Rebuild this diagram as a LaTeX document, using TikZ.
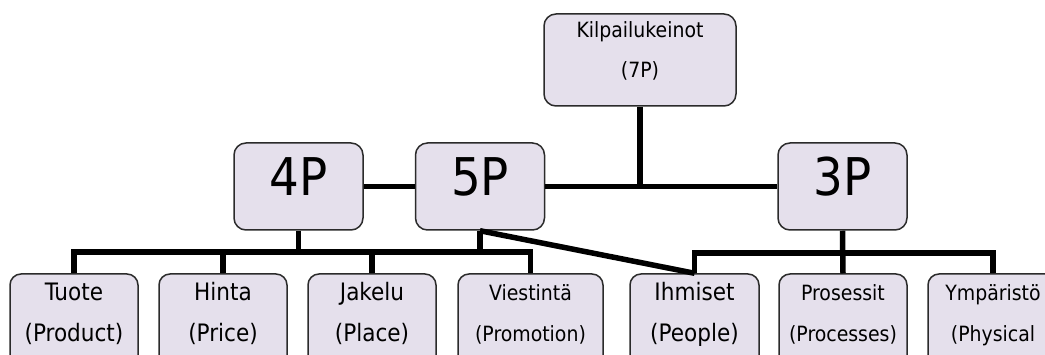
\documentclass[tikz,border=0pt]{standalone}
\usepackage{fontspec}
\setmainfont{DejaVu Sans Condensed}
\usetikzlibrary{positioning}
\definecolor{Box}{HTML}{E5E0EC}
\definecolor{Edge}{HTML}{2B2B2B}
\tikzset{
    card/.style={rectangle, rounded corners=12pt, draw=Edge, line width=1.5pt, fill=Box, inner sep=0pt},
    bignode/.style={card, minimum width=129pt, minimum height=87pt},
    leafnode/.style={card, rounded corners=11pt, minimum height=100pt},
    word/.style={anchor=base, inner sep=0pt, font=\fontsize{24}{28}\selectfont},
    smallword/.style={word, font=\fontsize{21}{25}\selectfont},
    topword/.style={word, font=\fontsize{21}{25}\selectfont},
    bigword/.style={word, font=\fontsize{52}{60}\selectfont},
    link/.style={line width=5.5pt, color=black},
}
\begin{document}
\begin{tikzpicture}[x=1pt, y=-1pt]
    \clip (0,0) rectangle (1045,355);

    % Ylin laatikko
    \node[card, minimum width=192pt, minimum height=92pt] (kilpailu) at (640,60) {};
    \node[topword] (kilpailu-a) at (640,38) {Kilpailukeinot};
    \node[topword] (kilpailu-b) at (640,78) {(7P)};

    % 4P, 5P, 3P
    \foreach \n/\x/\t in {p4/298.5/4P, p5/480/5P, p3/842.5/3P}{
        \node[bignode] (\n) at (\x,186.5) {};
        \node[bigword] (\n-t) at (\x,196) {\t};
    }

    % Alimmat laatikot
    \foreach \n/\x/\w/\s/\a/\b in {
        tuote/74/128/word/Tuote/{(Product)},
        hinta/223/128/word/Hinta/{(Price)},
        jakelu/372/128/word/Jakelu/{(Place)},
        viest/530.5/145/smallword/Viestintä/{(Promotion)},
        ihmiset/694.5/129/word/Ihmiset/{(People)},
        prosessit/843/128/smallword/Prosessit/{(Processes)},
        ymparisto/993/130/smallword/Ympäristö/{(Physical}}{
        \node[leafnode, minimum width=\w pt] (\n) at (\x,324) {};
        \node[\s] (\n-a) at (\x,301) {\a};
        \node[\s] (\n-b) at (\x,342) {\b};
    }

    % Yhdysviivat
    \coordinate (busL) at (0,252);
    \coordinate (busR) at (0,253);
    \draw[link] (kilpailu.south) -- (kilpailu.south |- p5.east);
    \draw[link] (p4.east) -- (p5.west);
    \draw[link] (p5.east) -- (p3.west);
    \draw[link] (tuote.north) -- (tuote.north |- busL) -- (viest.north |- busL) -- (viest.north);
    \draw[link] (hinta.north) -- (hinta.north |- busL);
    \draw[link] (jakelu.north) -- (jakelu.north |- busL);
    \draw[link] (p4.south) -- (p4.south |- busL);
    \draw[link] (p5.south) -- (p5.south |- busL);
    \draw[link] (p5.south) -- (ihmiset.north);
    \draw[link] (ihmiset.north) -- (ihmiset.north |- busR) -- (ymparisto.north |- busR) -- (ymparisto.north);
    \draw[link] (p3.south) -- (prosessit.north);

\end{tikzpicture}
\end{document}
